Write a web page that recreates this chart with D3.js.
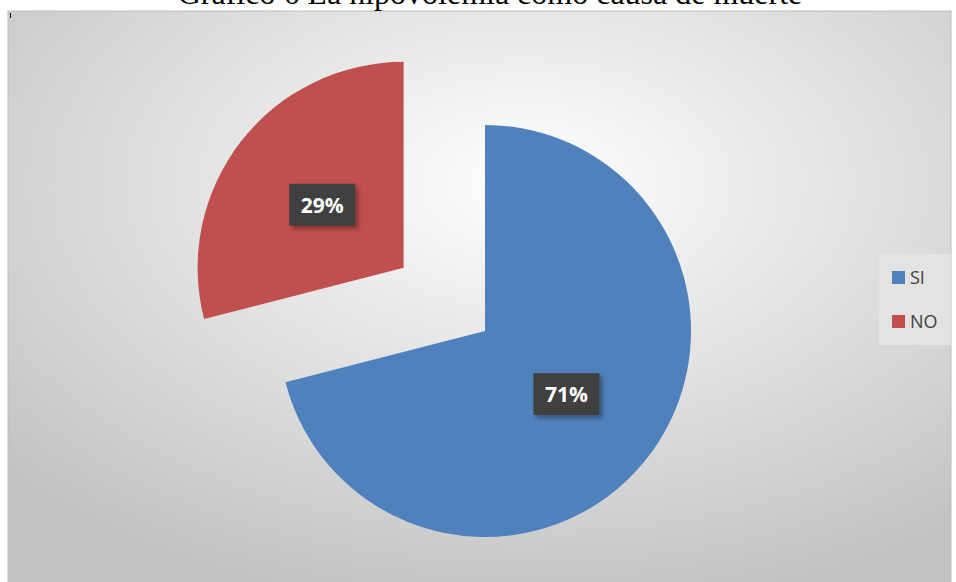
<!DOCTYPE html>
<html>
<head>
<meta charset="utf-8">
<script src="https://cdn.jsdelivr.net/npm/d3@7"></script>
<style>
body{margin:0;background:#fff;}
</style>
</head>
<body>
<div id="chart"></div>
<script>
let categories=["SI","NO"];
let values=[71,29];
let colors=["#4F81BD","#C0504D"];
let title="Gráfico 6 La hipovolemia como causa de muerte";

let width=956;
let height=582;
let cx=485, cy=331, radius=206;
let explode=[0,103];

let chart=d3.select("#chart").append("svg")
.attr("width",width).attr("height",height);

let defs=chart.append("defs");
let grad=defs.append("radialGradient").attr("id","bg")
.attr("cx","0.55").attr("cy","0.3").attr("r","0.75");
grad.append("stop").attr("offset","0").attr("stop-color","#ffffff");
grad.append("stop").attr("offset","1").attr("stop-color","#c2c2c2");

let shadow=defs.append("filter").attr("id","sh").attr("x","-20%").attr("y","-20%").attr("width","150%").attr("height","160%");
shadow.append("feDropShadow").attr("dx",3).attr("dy",3).attr("stdDeviation",2).attr("flood-color","#000").attr("flood-opacity",0.35);

// chart area
chart.append("rect").attr("x",8).attr("y",11).attr("width",943).attr("height",575)
.attr("fill","url(#bg)").attr("stroke","#bdbdbd").attr("stroke-width",1);
chart.append("line").attr("x1",10.5).attr("x2",10.5).attr("y1",13).attr("y2",18)
.attr("stroke","#000").attr("stroke-width",1);

// title sits partly above the page edge, as in the original
chart.append("text").text(title)
.attr("x",490).attr("y",4).attr("text-anchor","middle")
.attr("font-family","Liberation Serif, Times New Roman, serif")
.attr("font-size",32).attr("fill","#000");

let pie=d3.pie().sort(null).value(d=>d);
let arcs=pie(values);
let arc=d3.arc().innerRadius(0).outerRadius(radius);
let labelArc=d3.arc().innerRadius(radius*0.5).outerRadius(radius*0.5);

let slices=chart.append("g").attr("transform","translate("+cx+","+cy+")")
.selectAll("g").data(arcs).enter().append("g")
.attr("transform",function(d,i){
    let a=(d.startAngle+d.endAngle)/2;
    return "translate("+(Math.sin(a)*explode[i])+","+(-Math.cos(a)*explode[i])+")";
});

slices.append("path").attr("d",arc)
.attr("fill",(d,i)=>colors[i]);

slices.each(function(d){
    let g=d3.select(this);
    let p=labelArc.centroid(d);
    let lab=g.append("g").attr("transform","translate("+p[0]+","+p[1]+")");
    lab.append("rect").attr("x",-33).attr("y",-21).attr("width",66).attr("height",42)
    .attr("fill","#404040").attr("filter","url(#sh)");
    lab.append("text").text(d.data+"%")
    .attr("text-anchor","middle").attr("y",8)
    .attr("font-family","Open Sans, Liberation Sans, sans-serif")
    .attr("font-weight","bold").attr("font-size",21).attr("fill","#fff");
});

// legend
let legend=chart.append("g");
legend.append("rect").attr("x",879).attr("y",254).attr("width",72).attr("height",91)
.attr("fill","#e3e3e3");
let items=legend.selectAll("g.item").data(categories).enter().append("g")
.attr("transform",(d,i)=>"translate(892,"+(271+i*44)+")");
items.append("rect").attr("width",13).attr("height",13).attr("fill",(d,i)=>colors[i]);
items.append("text").text(d=>d).attr("x",18).attr("y",13)
.attr("font-family","Open Sans, Liberation Sans, sans-serif")
.attr("font-size",18).attr("fill","#404040");
</script>
</body>
</html>
